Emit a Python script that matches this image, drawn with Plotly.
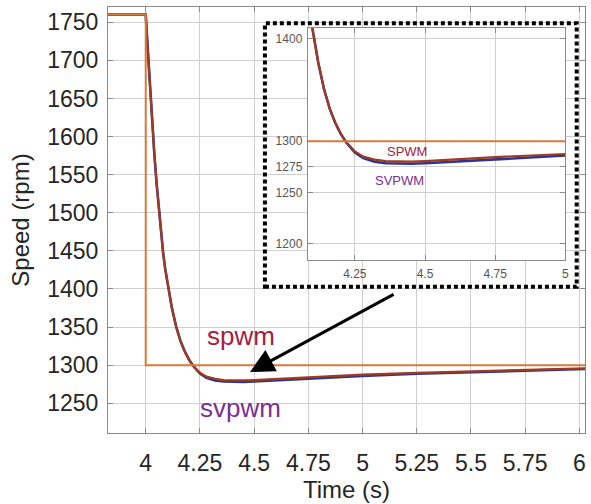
import plotly.graph_objects as go

# ---- data ----
time_s = [3.80, 4.00, 4.01, 4.02, 4.03, 4.04, 4.05, 4.06, 4.07, 4.08, 4.09, 4.10, 4.12, 4.14, 4.16,
          4.18, 4.20, 4.22, 4.25, 4.28, 4.32, 4.36, 4.40, 4.45, 4.50, 4.60, 4.75,
          5.00, 5.25, 5.50, 5.75, 6.00, 6.05]
spwm = [1760, 1760, 1712, 1662, 1617, 1576, 1539, 1506, 1475, 1448, 1426, 1408, 1376, 1351, 1332,
        1318, 1307, 1299, 1290, 1285, 1282, 1280.5, 1280, 1280, 1280.5, 1282, 1284.5,
        1287.5, 1290, 1292, 1294, 1295.5, 1296]
svpwm = [1760, 1760, 1712, 1662, 1617, 1576, 1539, 1506, 1475, 1448, 1426, 1408, 1376, 1351, 1332,
         1318, 1307, 1298.5, 1289, 1283.5, 1280, 1278.5, 1278, 1278, 1278.5, 1280, 1282.5,
         1286, 1288.8, 1291, 1293, 1294.8, 1295.2]
ref_time = [3.80, 4.00, 4.00, 6.05]
ref_speed = [1760, 1760, 1300, 1300]

main_xticks = [4, 4.25, 4.5, 4.75, 5, 5.25, 5.5, 5.75, 6]
main_xlabels = ["4", "4.25", "4.5", "4.75", "5", "5.25", "5.5", "5.75", "6"]
main_yticks = [1250, 1300, 1350, 1400, 1450, 1500, 1550, 1600, 1650, 1700, 1750]
inset_xticks = [4.25, 4.5, 4.75, 5]
inset_xlabels = ["4.25", "4.5", "4.75", "5"]
inset_yticks = [1200, 1250, 1275, 1300, 1400]

C_SV = "#2a3596"
C_SP = "#a23a1e"
C_REF = "#d8793a"
FONT = "Liberation Sans"

fig = go.Figure()
for xa, ya in (("x", "y"), ("x2", "y2")):
    fig.add_trace(go.Scatter(x=time_s, y=svpwm, mode="lines", line=dict(color=C_SV, width=2.6),
                             xaxis=xa, yaxis=ya, showlegend=False, hoverinfo="skip"))
    fig.add_trace(go.Scatter(x=time_s, y=spwm, mode="lines", line=dict(color=C_SP, width=2.2),
                             xaxis=xa, yaxis=ya, showlegend=False, hoverinfo="skip"))
    fig.add_trace(go.Scatter(x=ref_time, y=ref_speed, mode="lines", line=dict(color=C_REF, width=2),
                             xaxis=xa, yaxis=ya, showlegend=False, hoverinfo="skip"))

axis_common = dict(showgrid=True, gridcolor="#cfcfcf", gridwidth=1, showline=True, mirror="ticks",
                   linecolor="#8a8a8a", linewidth=1, ticks="inside", tickcolor="#8a8a8a",
                   ticklen=5, zeroline=False, automargin=False)

fig.update_layout(
    width=591, height=504,
    margin=dict(l=108, r=6, t=7, b=71),
    paper_bgcolor="white", plot_bgcolor="white",
    font=dict(family=FONT, color="#262626"),
    xaxis=dict(range=[3.826, 6.026], tickvals=main_xticks, ticktext=main_xlabels,
               tickfont=dict(size=23, color="#262626"), ticklabelstandoff=9,
               title=dict(text="Time (s)", font=dict(size=24, color="#262626"), standoff=0),
               **axis_common),
    yaxis=dict(range=[1211, 1770], tickvals=main_yticks,
               tickfont=dict(size=23, color="#262626"), ticklabelstandoff=4,
               title=dict(text="Speed (rpm)", font=dict(size=24, color="#262626"), standoff=10),
               **axis_common),
    xaxis2=dict(domain=[0.4187, 0.9587], anchor="y2", range=[4.082, 5.0],
                tickvals=inset_xticks, ticktext=inset_xlabels, ticklabelstandoff=3,
                tickfont=dict(size=12, color="#555555"), **axis_common),
    yaxis2=dict(domain=[0.406, 0.9507], anchor="x2", range=[1184, 1410.5],
                tickvals=inset_yticks, tickfont=dict(size=12, color="#555555"), ticklabelstandoff=2,
                **axis_common),
)

# white backing (drawn in the inset subplot's lower layer) and dotted frame of the zoom window
fig.add_shape(type="rect", xref="x2 domain", yref="y2 domain", x0=-0.166, x1=1.044, y0=-0.115, y1=1.020,
              fillcolor="white", line=dict(width=0), layer="below")
fig.add_shape(type="rect", xref="paper", yref="paper", x0=0.329, x1=0.9826, y0=0.3434, y1=0.9617,
              fillcolor="rgba(0,0,0,0)", line=dict(color="black", width=4, dash="4px,3px"), layer="above")

# labels
fig.add_annotation(x=4.44, y=1338, xref="x", yref="y", text="spwm", showarrow=False,
                   font=dict(size=26, color="#a3203f", family=FONT))
fig.add_annotation(x=4.436, y=1244, xref="x", yref="y", text="svpwm", showarrow=False,
                   font=dict(size=26, color="#7b2f92", family=FONT))
fig.add_annotation(x=4.435, y=1290, xref="x2", yref="y2", text="SPWM", showarrow=False,
                   font=dict(size=13, color="#a3203f", family=FONT))
fig.add_annotation(x=4.41, y=1262, xref="x2", yref="y2", text="SVPWM", showarrow=False,
                   font=dict(size=13, color="#7b2f92", family=FONT))

# arrow
fig.add_annotation(x=4.481, y=1291, xref="x", yref="y", ax=5.15, ay=1394, axref="x", ayref="y",
                   text="", showarrow=True, arrowhead=2, arrowsize=1.6, arrowwidth=3,
                   arrowcolor="black")

fig.write_html("out.html", config={"displayModeBar": False},
               post_script="document.body.style.margin='0';")
